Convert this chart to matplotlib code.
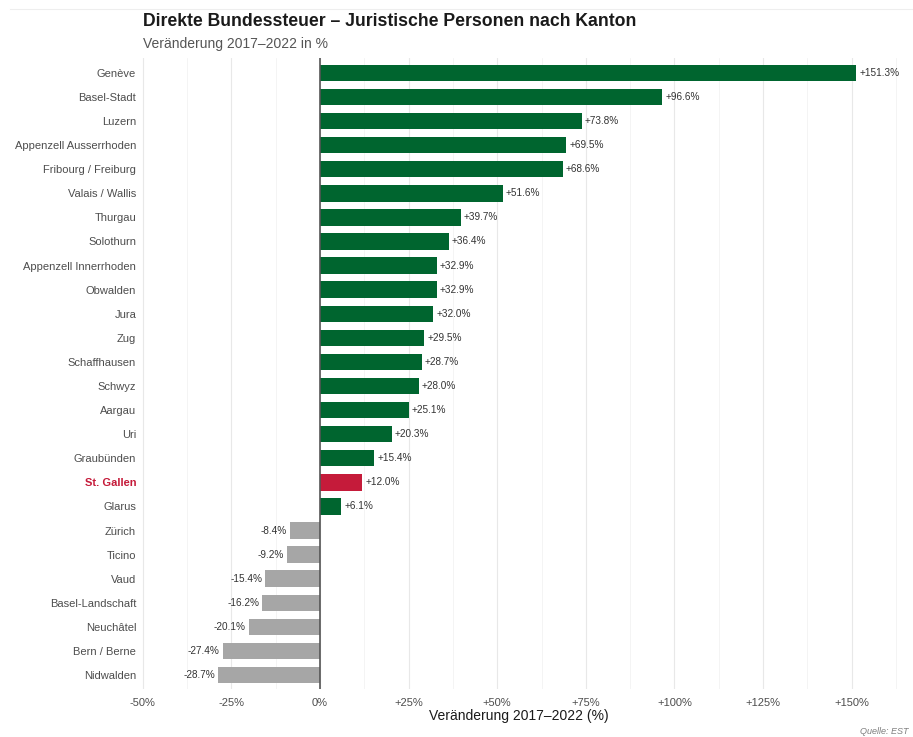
import matplotlib.pyplot as plt
from matplotlib.lines import Line2D
from matplotlib.ticker import MultipleLocator

plt.rcParams['font.family'] = ['Liberation Sans', 'DejaVu Sans']

# Daten
kantone = ['Genève', 'Basel-Stadt', 'Luzern', 'Appenzell Ausserrhoden',
           'Fribourg / Freiburg', 'Valais / Wallis', 'Thurgau', 'Solothurn',
           'Appenzell Innerrhoden', 'Obwalden', 'Jura', 'Zug', 'Schaffhausen',
           'Schwyz', 'Aargau', 'Uri', 'Graubünden', 'St. Gallen', 'Glarus',
           'Zürich', 'Ticino', 'Vaud', 'Basel-Landschaft', 'Neuchâtel',
           'Bern / Berne', 'Nidwalden']
veraenderung = [151.3, 96.6, 73.8, 69.5, 68.6, 51.6, 39.7, 36.4, 32.9, 32.9,
                32.0, 29.5, 28.7, 28.0, 25.1, 20.3, 15.4, 12.0, 6.1,
                -8.4, -9.2, -15.4, -16.2, -20.1, -27.4, -28.7]
hervorgehoben = 'St. Gallen'
ticks = [-50, -25, 0, 25, 50, 75, 100, 125, 150]

gruen = '#00652f'
rot = '#c51b3a'
grau = '#a6a6a6'

farben = []
for k, v in zip(kantone, veraenderung):
    if k == hervorgehoben:
        farben.append(rot)
    elif v >= 0:
        farben.append(gruen)
    else:
        farben.append(grau)

fig = plt.figure(figsize=(9.13, 7.37), dpi=100)
ax = fig.add_axes([0.1522, 0.0645, 0.8313, 0.8562])

y = list(range(len(kantone)))
ax.barh(y, veraenderung, height=0.68, color=farben, zorder=3)

# Werte neben die Balken schreiben
for yi, v in zip(y, veraenderung):
    txt = f'{v:+.1f}%'
    if v >= 0:
        ax.text(v + 0.8, yi, txt, va='center', ha='left', fontsize=7.2, color='#333333', zorder=4)
    else:
        ax.text(v - 0.8, yi, txt, va='center', ha='right', fontsize=7.2, color='#333333', zorder=4)

ax.axvline(0, color='#555555', lw=1.2, zorder=5)

ax.set_xlim(-51, 163)
ax.set_ylim(len(kantone) - 0.4, -0.6)
ax.set_xticks(ticks)
ax.set_xticklabels([f'+{t}%' if t > 0 else f'{t}%' for t in ticks])
ax.xaxis.set_minor_locator(MultipleLocator(12.5))
ax.set_yticks(y)
ax.set_yticklabels(kantone)

for lbl in ax.get_yticklabels():
    if lbl.get_text() == hervorgehoben:
        lbl.set_color(rot)
        lbl.set_fontweight('bold')
    else:
        lbl.set_color('#4d4d4d')

ax.tick_params(axis='both', which='both', length=0, labelsize=8)
ax.tick_params(axis='x', colors='#4d4d4d', pad=6)
ax.tick_params(axis='y', pad=2)
ax.grid(axis='x', which='major', color='#e8e8e8', lw=0.8, zorder=0)
ax.grid(axis='x', which='minor', color='#f3f3f3', lw=0.6, zorder=0)
ax.grid(axis='y', visible=False)
for s in ax.spines.values():
    s.set_visible(False)

ax.set_xlabel('Veränderung 2017–2022 (%)', fontsize=10, color='#1a1a1a', labelpad=1)

fig.text(143 / 913, 1 - 22 / 737, 'Direkte Bundessteuer – Juristische Personen nach Kanton',
         fontsize=12.7, fontweight='bold', color='#1a1a1a', va='center')
fig.text(143 / 913, 1 - 44 / 737, 'Veränderung 2017–2022 in %',
         fontsize=10, color='#555555', va='center')
fig.text(0.995, 1 - 731 / 737, 'Quelle: EST', fontsize=6.5, style='italic',
         color='#7f7f7f', ha='right', va='center')
fig.add_artist(Line2D([10 / 913, 1], [1 - 9 / 737, 1 - 9 / 737], color='#eeeeee', lw=0.8))

plt.savefig('out.png', dpi=100)
